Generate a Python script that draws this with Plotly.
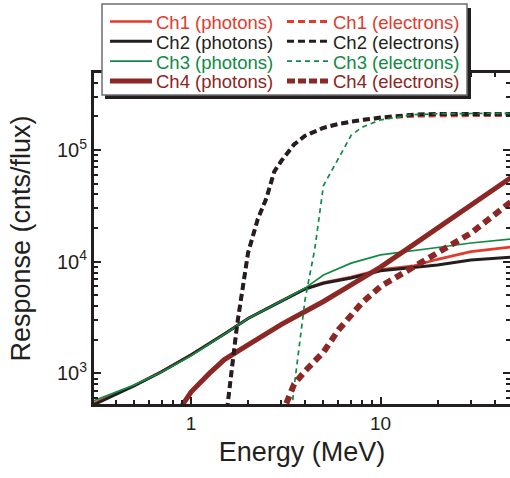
import plotly.graph_objects as go

# ---- photon response curves (counts per unit flux vs. energy in MeV) ----
ph_energy = [0.3, 0.5, 0.7, 1.0, 1.5, 2.0, 3.0, 4.0, 5.0, 7.0, 10.0, 15.0, 20.0, 30.0, 50.0]
ch1_photons = [530, 775, 1040, 1470, 2260, 3110, 4450, 5720, 6500, 7300, 8500, 9200, 10500, 12300, 13600]
ch2_photons = [515, 771, 1035, 1460, 2250, 3100, 4430, 5700, 6410, 7150, 8300, 8900, 9330, 10350, 11000]
ch3_photons = [560, 785, 1030, 1440, 2240, 3100, 4450, 5800, 7600, 9700, 11500, 12500, 13400, 14700, 16000]

ch4_ph_energy = [0.9, 1.0, 1.25, 1.5, 2.0, 3.0, 4.0, 5.0, 7.0, 10.0, 15.0, 20.0, 30.0, 50.0]
ch4_photons = [520, 680, 1000, 1330, 1800, 2750, 3580, 4400, 6200, 8940, 14300, 20000, 32100, 58200]

# ---- electron response curves ----
e12_energy = [1.5, 1.6, 1.75, 2.0, 2.25, 2.5, 2.75, 3.0, 3.5, 4.0, 5.0, 6.0, 7.0, 8.0, 10.0, 15.0, 20.0, 30.0, 50.0]
ch1_electrons = [300, 800, 2700, 12000, 24000, 37000, 64000, 80000, 112000, 134000, 158000, 171000, 179000, 185000, 193000, 201000, 203000, 203000, 204000]
ch2_electrons = [300, 800, 2700, 12000, 24000, 37000, 64000, 80000, 112000, 134000, 158000, 171000, 180000, 186000, 195000, 207000, 210000, 210000, 210000]

ch3_e_energy = [3.4, 3.5, 4.0, 4.5, 5.0, 6.0, 7.0, 8.0, 10.0, 15.0, 20.0, 30.0, 50.0]
ch3_electrons = [480, 750, 4600, 13000, 48000, 85000, 135000, 160000, 186000, 207000, 211000, 212000, 213000]

ch4_e_energy = [3.0, 3.5, 4.0, 5.0, 6.0, 7.0, 8.0, 10.0, 15.0, 20.0, 30.0, 50.0]
ch4_electrons = [420, 800, 1050, 1550, 2450, 3300, 4300, 6000, 9000, 11800, 18000, 35500]

# ---- axis ticks ----
x_tickvals = [1, 10]
x_ticktext = ["1", "10"]
x_minor = [0.4, 0.5, 0.6, 0.7, 0.8, 0.9, 2, 3, 4, 5, 6, 7, 8, 9, 20, 30, 40]
y_tickvals = [1e3, 1e4, 1e5]
y_ticktext = ["10<sup>3</sup>", "10<sup>4</sup>", "10<sup>5</sup>"]
y_minor = [600, 700, 800, 900] + [m * 1e3 for m in range(2, 10)] + [m * 1e4 for m in range(2, 10)] + [m * 1e5 for m in range(2, 6)]

RED = "#e23b2c"
BLACK = "#231f20"
GREEN = "#108a45"
DARKRED = "#8b2724"
FONT = "Liberation Sans, Arial, sans-serif"

W, H = 510, 478
L, R, T, B = 94, 0, 73, 74
PW, PH = W - L - R, H - T - B


def px(x):
    return (x - L) / PW


def py(y):
    return (H - B - y) / PH


fig = go.Figure()

# photons (solid)
fig.add_trace(go.Scatter(x=ph_energy, y=ch1_photons, mode="lines", line=dict(color=RED, width=2.7)))
fig.add_trace(go.Scatter(x=ph_energy, y=ch2_photons, mode="lines", line=dict(color=BLACK, width=3)))
fig.add_trace(go.Scatter(x=ph_energy, y=ch3_photons, mode="lines", line=dict(color=GREEN, width=1.7)))
fig.add_trace(go.Scatter(x=ch4_ph_energy, y=ch4_photons, mode="lines", line=dict(color=DARKRED, width=5)))

# electrons (dashed)
fig.add_trace(go.Scatter(x=e12_energy, y=ch1_electrons, mode="lines",
                         line=dict(color=RED, width=3.2, dash="7px,4px")))
fig.add_trace(go.Scatter(x=e12_energy, y=ch2_electrons, mode="lines",
                         line=dict(color=BLACK, width=4, dash="7px,4px")))
fig.add_trace(go.Scatter(x=ch3_e_energy, y=ch3_electrons, mode="lines",
                         line=dict(color=GREEN, width=1.7, dash="5px,4px")))
fig.add_trace(go.Scatter(x=ch4_e_energy, y=ch4_electrons, mode="lines",
                         line=dict(color=DARKRED, width=6, dash="8px,5px")))

# ---- legend box drawn by hand (two columns, four rows) ----
shapes = [
    dict(type="rect", xref="paper", yref="paper", x0=px(105), x1=px(471), y0=py(99), y1=py(8),
         fillcolor=BLACK, line=dict(width=0), layer="above"),
    dict(type="rect", xref="paper", yref="paper", x0=px(102), x1=px(467), y0=py(95), y1=py(4),
         fillcolor="white", line=dict(color="#6d6e71", width=1.5), layer="above"),
]
annotations = []
rows_y = [22.5, 42.3, 62.1, 81.9]
legend_rows = [
    ("Ch1", RED, 2.7, "7px,4px", 3),
    ("Ch2", BLACK, 3, "7px,4px", 3),
    ("Ch3", GREEN, 1.7, "5px,4px", 1.7),
    ("Ch4", DARKRED, 5, "8px,3px", 5),
]
for (name, color, w_solid, dash, w_dash), ry in zip(legend_rows, rows_y):
    shapes.append(dict(type="line", xref="paper", yref="paper", x0=px(110), x1=px(152),
                       y0=py(ry - 1), y1=py(ry - 1), line=dict(color=color, width=w_solid), layer="above"))
    shapes.append(dict(type="line", xref="paper", yref="paper", x0=px(287), x1=px(328),
                       y0=py(ry - 1), y1=py(ry - 1), line=dict(color=color, width=w_dash, dash=dash),
                       layer="above"))
    annotations.append(dict(text=f"{name} (photons)", xref="paper", yref="paper", x=px(154), y=py(ry),
                            xanchor="left", yanchor="middle", showarrow=False,
                            font=dict(family=FONT, size=18.5, color=color)))
    annotations.append(dict(text=f"{name} (electrons)", xref="paper", yref="paper", x=px(331), y=py(ry),
                            xanchor="left", yanchor="middle", showarrow=False,
                            font=dict(family=FONT, size=18.5, color=color)))

axis_common = dict(
    type="log",
    showgrid=False,
    zeroline=False,
    showline=True,
    linecolor=BLACK,
    linewidth=3,
    mirror="ticks",
    ticks="inside",
    ticklen=7,
    tickwidth=2,
    tickcolor=BLACK,
    automargin=False,
)

fig.update_layout(
    width=W,
    height=H,
    margin=dict(l=L, r=R, t=T, b=B),
    paper_bgcolor="white",
    plot_bgcolor="white",
    showlegend=False,
    font=dict(family=FONT, color=BLACK),
    shapes=shapes,
    annotations=annotations,
    xaxis=dict(
        axis_common,
        range=[-0.5119, 1.6834],
        tickvals=x_tickvals,
        ticktext=x_ticktext,
        tickfont=dict(size=19, color=BLACK),
        minor=dict(tickvals=x_minor, ticks="inside", ticklen=4, tickwidth=2, tickcolor=BLACK, showgrid=False),
        title=dict(text="Energy (MeV)", font=dict(size=27, color=BLACK), standoff=10),
    ),
    yaxis=dict(
        axis_common,
        range=[2.726, 5.689],
        tickvals=y_tickvals,
        ticktext=y_ticktext,
        tickfont=dict(size=20, color=BLACK),
        minor=dict(tickvals=y_minor, ticks="inside", ticklen=4, tickwidth=2, tickcolor=BLACK, showgrid=False),
        title=dict(text="Response (cnts/flux)", font=dict(size=27, color=BLACK), standoff=19),
    ),
)

fig.write_html("out.html")
